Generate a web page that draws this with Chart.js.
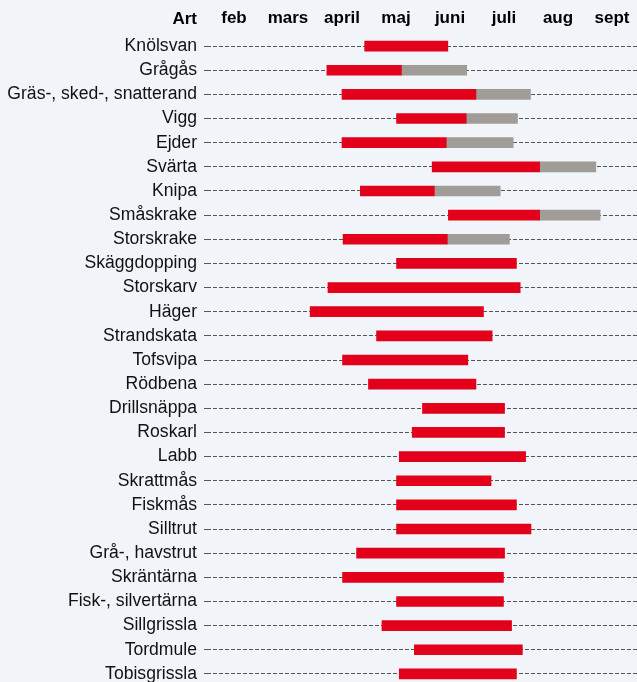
<!DOCTYPE html>
<html>
<head>
<meta charset="utf-8">
<script src="https://cdn.jsdelivr.net/npm/chart.js@4.4.1/dist/chart.umd.min.js"></script>
<style>
  html, body { margin: 0; padding: 0; background: #f1f5fa; overflow: hidden; }
  #wrap { width: 639px; height: 686px; position: relative; }
</style>
</head>
<body>
<div id="wrap"><canvas id="myChart"></canvas></div>
<script>
// months shown on top (value 2 = start of feb, 10 = end of sept)
const months = ["feb", "mars", "april", "maj", "juni", "juli", "aug", "sept"];

const species = [
  "Knölsvan", "Grågås", "Gräs-, sked-, snatterand", "Vigg", "Ejder", "Svärta",
  "Knipa", "Småskrake", "Storskrake", "Skäggdopping", "Storskarv", "Häger",
  "Strandskata", "Tofsvipa", "Rödbena", "Drillsnäppa", "Roskarl", "Labb",
  "Skrattmås", "Fiskmås", "Silltrut", "Grå-, havstrut", "Skräntärna",
  "Fisk-, silvertärna", "Sillgrissla", "Tordmule", "Tobisgrissla"
];

// red period start / end
const redStart = [4.92, 4.22, 4.50, 5.51, 4.50, 6.17, 4.84, 6.47, 4.52, 5.51, 4.24, 3.91,
  5.14, 4.51, 4.99, 5.99, 5.80, 5.56, 5.51, 5.51, 5.51, 4.77, 4.51, 5.51, 5.24, 5.84, 5.56];
const redEnd = [6.46, 5.60, 6.98, 6.80, 6.43, 8.16, 6.21, 8.16, 6.45, 7.73, 7.80, 7.12,
  7.28, 6.83, 6.98, 7.51, 7.51, 7.90, 7.26, 7.73, 8.00, 7.51, 7.49, 7.49, 7.64, 7.84, 7.73];
// grey period end (starts where red ends), null = no grey part
const greyEnd = [null, 6.81, 7.99, 7.75, 7.67, 9.20, 7.43, 9.28, 7.60, null, null, null,
  null, null, null, null, null, null, null, null, null, null, null, null, null, null, null];

var redData = species.map((s, i) => [redStart[i], redEnd[i]]);
var greyData = species.map((s, i) => (greyEnd[i] == null ? null : [redEnd[i], greyEnd[i]]));

const FONT = "'Liberation Sans', Arial, sans-serif";

// "Art" header above the species names
const artHeader = {
  id: "artHeader",
  afterDraw(chart) {
    const ctx = chart.ctx;
    const y = chart.scales.y;
    ctx.save();
    ctx.font = "bold 17px " + FONT;
    ctx.fillStyle = "#000";
    ctx.textAlign = "right";
    ctx.textBaseline = "middle";
    ctx.fillText("Art", y.right - 10, 19);
    ctx.restore();
  },
};

const ctx = document.getElementById("myChart").getContext("2d");
var myChart = new Chart(ctx, {
  type: "bar",
  data: {
    labels: species,
    datasets: [
      {
        data: redData,
        backgroundColor: "#e2001a",
        barThickness: 10,
        grouped: false,
      },
      {
        data: greyData,
        backgroundColor: "#a09c97",
        barThickness: 10,
        grouped: false,
      },
    ],
  },
  options: {
    indexAxis: "y",
    responsive: true,
    maintainAspectRatio: false,
    animation: false,
    layout: { padding: 0 },
    plugins: {
      legend: { display: false },
      tooltip: { enabled: false },
    },
    scales: {
      x: {
        type: "linear",
        min: 2,
        max: 10,
        display: false,
      },
      x2: {
        type: "category",
        labels: months,
        position: "top",
        offset: true,
        grid: { display: false, drawTicks: false },
        border: { display: false },
        ticks: {
          color: "#000",
          padding: 5,
          font: { family: FONT, size: 17, weight: "bold" },
        },
        afterFit: (scale) => { scale.height = 34; },
      },
      y: {
        type: "category",
        offset: true,
        border: { display: false, dash: [4, 2] },
        grid: {
          offset: false,
          color: "#555",
          lineWidth: 1,
          tickLength: 3,
          tickColor: "#555",
          tickBorderDash: [4, 2],
        },
        ticks: {
          autoSkip: false,
          color: "#111",
          padding: 7,
          font: { family: FONT, size: 17.6 },
        },
        afterFit: (scale) => {
          scale.width = 207;
          scale.paddingTop = 0;
          scale.paddingBottom = 0;
        },
      },
    },
  },
  plugins: [artHeader],
});
</script>
</body>
</html>
